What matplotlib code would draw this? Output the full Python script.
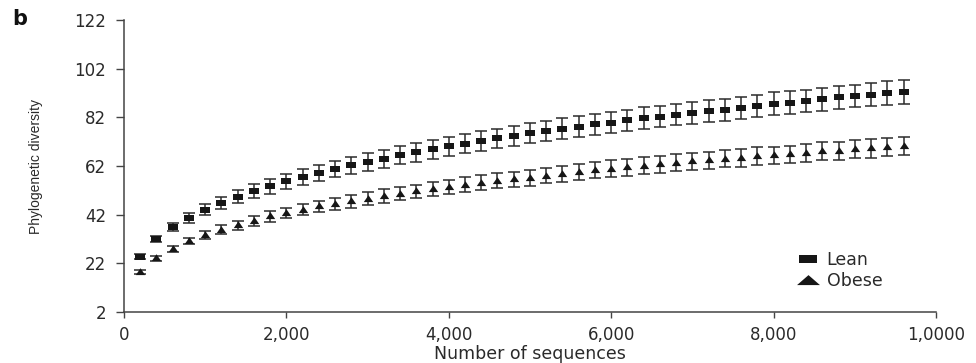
import matplotlib
matplotlib.use("Agg")
from matplotlib import pyplot as plt
from matplotlib.path import Path
from matplotlib.lines import Line2D

# rarefaction curves, values
sequences = [200 * (i + 1) for i in range(48)]

lean = [24.8, 31.9, 36.9, 40.6, 44.1, 46.8, 49.4, 51.9, 53.7, 55.8,
        57.6, 59.3, 60.8, 62.4, 63.7, 65.0, 66.5, 67.6, 68.9, 70.1,
        71.2, 72.3, 73.4, 74.4, 75.5, 76.4, 77.4, 78.2, 79.2, 79.9,
        80.8, 81.7, 82.3, 83.2, 83.9, 84.7, 85.2, 86.0, 86.8, 87.7,
        88.1, 88.8, 89.4, 90.2, 90.8, 91.3, 92.0, 92.5]
lean_err = [0.9, 1.3, 1.7, 2.0, 2.3, 2.5, 2.7, 2.9, 3.0, 3.1,
            3.2, 3.3, 3.4, 3.5, 3.6, 3.6, 3.7, 3.8, 3.8, 3.9,
            3.9, 4.0, 4.0, 4.1, 4.1, 4.2, 4.2, 4.2, 4.3, 4.3,
            4.3, 4.4, 4.4, 4.4, 4.5, 4.5, 4.5, 4.5, 4.6, 4.6,
            4.6, 4.6, 4.7, 4.7, 4.7, 4.7, 4.8, 4.8]

obese = [18.6, 24.1, 27.9, 31.2, 33.7, 35.9, 37.6, 39.5, 41.3, 42.7,
         44.0, 45.4, 46.4, 47.5, 48.6, 49.7, 50.7, 51.6, 52.6, 53.4,
         54.4, 55.2, 56.0, 56.5, 57.1, 58.1, 58.8, 59.5, 60.2, 61.0,
         61.5, 62.2, 62.7, 63.3, 64.0, 64.3, 65.1, 65.4, 66.1, 66.4,
         66.8, 67.5, 68.2, 68.4, 68.9, 69.3, 69.8, 70.2]
obese_err = [0.8, 1.0, 1.2, 1.4, 1.6, 1.8, 1.9, 2.0, 2.1, 2.2,
             2.3, 2.4, 2.5, 2.6, 2.6, 2.7, 2.8, 2.8, 2.9, 2.9,
             3.0, 3.0, 3.1, 3.1, 3.2, 3.2, 3.2, 3.3, 3.3, 3.3,
             3.4, 3.4, 3.4, 3.5, 3.5, 3.5, 3.5, 3.6, 3.6, 3.6,
             3.6, 3.7, 3.7, 3.7, 3.7, 3.8, 3.8, 3.8]

x_ticks = [0, 2000, 4000, 6000, 8000, 10000]
x_tick_labels = ["0", "2,000", "4,000", "6,000", "8,000", "1,0000"]
y_ticks = [2, 22, 42, 62, 82, 102, 122]

plt.rcParams["font.family"] = ["DejaVu Sans"]
ink = "#2a2a2a"
mark = "#161616"

# the original figure is stretched sideways, so the markers are wide
box = Path([(-1, -0.6), (1, -0.6), (1, 0.6), (-1, 0.6), (-1, -0.6)],
           [Path.MOVETO, Path.LINETO, Path.LINETO, Path.LINETO, Path.CLOSEPOLY])
tri = Path([(-1, -0.55), (1, -0.55), (0, 0.9), (-1, -0.55)],
           [Path.MOVETO, Path.LINETO, Path.LINETO, Path.CLOSEPOLY])
wide_box = Path([(-1, -0.42), (1, -0.42), (1, 0.42), (-1, 0.42), (-1, -0.42)],
                [Path.MOVETO, Path.LINETO, Path.LINETO, Path.LINETO, Path.CLOSEPOLY])
wide_tri = Path([(-1, -0.4), (1, -0.4), (0, 0.47), (-1, -0.4)],
                [Path.MOVETO, Path.LINETO, Path.LINETO, Path.CLOSEPOLY])

fig = plt.figure(figsize=(9.76, 3.63), dpi=100)
ax = fig.add_axes([0.127, 0.1405, 0.832, 0.804])

ax.errorbar(sequences, lean, yerr=lean_err, fmt="none", ecolor="#2b2b2b",
            capsize=4.6, elinewidth=1.1, capthick=1.1)
ax.plot(sequences, lean, linestyle="none", marker=box, markersize=7.4,
        color=mark, markeredgewidth=0)
ax.errorbar(sequences, obese, yerr=obese_err, fmt="none", ecolor="#2b2b2b",
            capsize=4.6, elinewidth=1.1, capthick=1.1)
ax.plot(sequences, obese, linestyle="none", marker=tri, markersize=6.8,
        color=mark, markeredgewidth=0)

ax.set_xlim(0, 10000)
ax.set_ylim(2, 122)
ax.set_xticks(x_ticks)
ax.set_xticklabels(x_tick_labels)
ax.set_yticks(y_ticks)
ax.tick_params(axis="both", direction="out", width=1, colors="#444444",
               labelcolor=ink, labelsize=12)
ax.tick_params(axis="y", length=6, pad=7)
ax.tick_params(axis="x", length=4, pad=6)

for side in ["top", "right"]:
    ax.spines[side].set_visible(False)
for side in ["left", "bottom"]:
    ax.spines[side].set_color("#444444")
    ax.spines[side].set_linewidth(1.1)

ax.set_xlabel("Number of sequences", fontsize=12.5, color=ink, labelpad=1)
ax.set_ylabel("Phylogenetic diversity", fontsize=10, color=ink, labelpad=22,
              family=["Liberation Sans", "DejaVu Sans"])

handles = [
    Line2D([], [], linestyle="none", marker=wide_box, markersize=12.6,
           color=mark, markeredgewidth=0),
    Line2D([], [], linestyle="none", marker=wide_tri, markersize=16.5,
           color=mark, markeredgewidth=0),
]
fig.legend(handles, ["Lean", "Obese"], loc="upper left",
           bbox_to_anchor=(0.815, 0.308), frameon=False, fontsize=12.5,
           handletextpad=0.4, labelspacing=0.15, handlelength=1.4,
           borderpad=0, borderaxespad=0, labelcolor=ink)

fig.text(0.013, 0.932, "b", fontsize=15, fontweight="bold", color="#111111")

fig.savefig("out.png", dpi=100)
